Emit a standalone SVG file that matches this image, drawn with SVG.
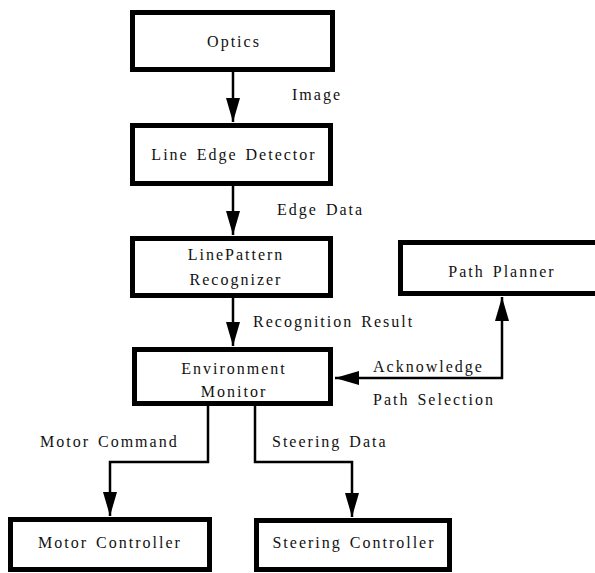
<svg xmlns="http://www.w3.org/2000/svg" width="595" height="573" viewBox="0 0 595 573">
<style>
.box{fill:#fff;stroke:#000;stroke-width:5}
.t{font-family:"Liberation Serif","Times New Roman",serif;font-size:16px;letter-spacing:2px;word-spacing:2px;fill:#111}
.c{text-anchor:middle}
.ln{fill:none;stroke:#000;stroke-width:2.5}
</style>
<defs>
<marker id="ah" markerUnits="userSpaceOnUse" markerWidth="24" markerHeight="14" refX="24" refY="7" orient="auto-start-reverse">
<path d="M0,0 L24,7 L0,14 Z" fill="#000"/>
</marker>
</defs>
<rect width="595" height="573" fill="#fff"/>
<g id="connectors">
<line class="ln" x1="233" y1="72" x2="233" y2="122" marker-end="url(#ah)"/>
<line class="ln" x1="233" y1="186" x2="233" y2="235" marker-end="url(#ah)"/>
<line class="ln" x1="233" y1="298" x2="233" y2="346" marker-end="url(#ah)"/>
<polyline class="ln" points="335,378 502,378 502,297" marker-start="url(#ah)" marker-end="url(#ah)"/>
<polyline class="ln" points="208,406 208,462 110,462 110,516" marker-end="url(#ah)"/>
<polyline class="ln" points="255,406 255,462 352,462 352,517" marker-end="url(#ah)"/>
<text class="t" x="292" y="100">Image</text>
<text class="t" x="277" y="215">Edge Data</text>
<text class="t" x="253" y="327">Recognition Result</text>
<text class="t" x="373" y="372">Acknowledge</text>
<text class="t" x="373" y="405">Path Selection</text>
<text class="t" x="40" y="447">Motor Command</text>
<text class="t" x="272" y="447">Steering Data</text>
</g>
<g id="optics">
<rect class="box" x="132.5" y="12.5" width="200" height="57"/>
<text class="t c" x="234" y="47">Optics</text>
</g>
<g id="line-edge-detector">
<rect class="box" x="132.5" y="125.5" width="198" height="58"/>
<text class="t c" x="234" y="160">Line Edge Detector</text>
</g>
<g id="linepattern-recognizer">
<rect class="box" x="132.5" y="238.5" width="198" height="57"/>
<text class="t c" x="236" y="260">LinePattern</text>
<text class="t c" x="236" y="285">Recognizer</text>
</g>
<g id="path-planner">
<rect class="box" x="400.5" y="242.5" width="200" height="51"/>
<text class="t c" x="502" y="277">Path Planner</text>
</g>
<g id="environment-monitor">
<rect class="box" x="134.5" y="349.5" width="196" height="54"/>
<text class="t c" x="234" y="374">Environment</text>
<text class="t c" x="234" y="397">Monitor</text>
</g>
<g id="motor-controller">
<rect class="box" x="10.5" y="519.5" width="199" height="50"/>
<text class="t c" x="110" y="548">Motor Controller</text>
</g>
<g id="steering-controller">
<rect class="box" x="256.5" y="520.5" width="193" height="49"/>
<text class="t c" x="354" y="548">Steering Controller</text>
</g>
</svg>
